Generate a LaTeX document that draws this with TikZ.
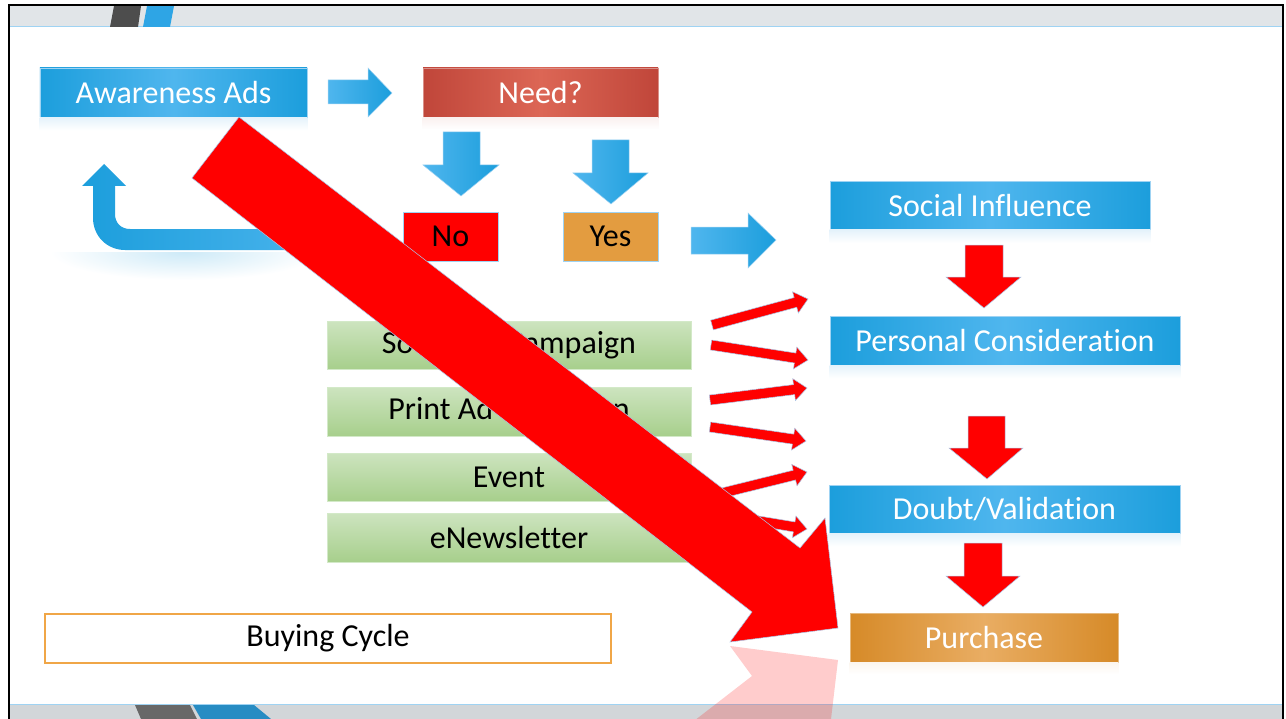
\documentclass[tikz,border=0pt]{standalone}
\usepackage{fontspec}
\setmainfont{Carlito}[Ligatures=CommonOff]
\usetikzlibrary{calc}

\definecolor{boxblue}{HTML}{1C9EDC}
\definecolor{boxbluelt}{HTML}{4FB6EE}
\definecolor{bluerim}{HTML}{9FD3F3}
\definecolor{needred}{HTML}{C0463A}
\definecolor{needredlt}{HTML}{DC6655}
\definecolor{buyorange}{HTML}{D68A28}
\definecolor{buyorangelt}{HTML}{E9AD63}
\definecolor{yesorange}{HTML}{E39C40}
\definecolor{greentop}{HTML}{CDE4BF}
\definecolor{greenbot}{HTML}{A7CF8C}
\definecolor{greenrim}{HTML}{D3E9C8}
\definecolor{barsgray}{HTML}{E1E5E8}
\definecolor{barbgray}{HTML}{D2D6D9}
\definecolor{tabdark}{HTML}{4D4D4D}
\definecolor{tabblue}{HTML}{2EA5E5}
\definecolor{rimred}{HTML}{A9C8EA}
\definecolor{cycleline}{HTML}{F0A647}
\definecolor{glowblue}{HTML}{E4F2FB}

\newcommand\thinarrow[2]{%
  \coordinate (hb) at ($(#2)!13bp!(#1)$);
  \draw[redblock]
    ($(#1)!5bp!90:(#2)$) -- ($(hb)!5bp!-90:(#1)$) -- ($(hb)!11bp!-90:(#1)$) --
    (#2) -- ($(hb)!11bp!90:(#1)$) -- ($(hb)!5bp!90:(#1)$) --
    ($(#1)!5bp!-90:(#2)$) -- cycle;}

\begin{document}
\begin{tikzpicture}[x=1bp,y=-1bp,
  txt/.style={font=\fontsize{32bp}{38bp}\selectfont},
  box/.style={rectangle, inner sep=0pt, txt, line width=0.6bp},
  bluebox/.style={box, left color=boxblue, right color=boxblue, middle color=boxbluelt, draw=bluerim, text=white},
  needbox/.style={box, left color=needred, right color=needred, middle color=needredlt, draw=needred!60!white, text=white},
  buybox/.style={box, left color=buyorange, right color=buyorange, middle color=buyorangelt, draw=buyorange!60!white, text=white},
  greenbox/.style={box, top color=greentop, bottom color=greenbot, draw=greenrim, text=black, minimum width=364bp},
  blueblock/.style={left color=boxbluelt, right color=boxblue, draw=bluerim, line width=0.5bp},
  redblock/.style={fill=red, draw=rimred, line width=0.5bp},
  glow/.style={top color=#1, bottom color=white, draw=none}
]
\useasboundingbox (0,0) rectangle (1286,719);
\fill[white] (0,0) rectangle (1286,719);

% slide frame: top and bottom bars with their tabs
\fill[barsgray] (8,5) rectangle (1284,27);
\draw[bluerim, line width=1bp] (8,27) -- (1284,27);
\fill[tabdark] (114,6) -- (141,6) -- (138,27) -- (110,27) -- cycle;
\fill[tabblue] (147,6) -- (174,6) -- (170,27) -- (143,27) -- cycle;
\fill[barbgray] (8,704) rectangle (1284,719);
\draw[bluerim, line width=1bp] (8,704) -- (1284,704);
\fill[tabdark!85!white] (135,705) -- (190,705) -- (197,719) -- (141,719) -- cycle;
\fill[tabblue!85!black] (193,705) -- (254,705) -- (271,719) -- (201,719) -- cycle;
\draw[black, line width=2bp] (9,719) -- (9,5) -- (1283,5) -- (1283,719);

% boxes
\node[bluebox, minimum width=267bp, minimum height=49bp] (aware) at (173.5,92.5) {Awareness Ads};
\node[needbox, minimum width=235bp, minimum height=49bp] (need) at (540.5,92.5) {Need?};
\node[box, fill=red, draw=bluerim, minimum width=95bp, minimum height=49bp] (no) at (450.5,236.5) {No};
\node[box, fill=yesorange, draw=bluerim, minimum width=95bp, minimum height=49bp] (yes) at (610.5,236.5) {Yes};
\node[bluebox, minimum width=320bp, minimum height=48bp] (social) at (990,205.5) {Social Influence};
\node[bluebox, minimum width=350bp, minimum height=49bp] (personal) at (1005,340.5) {Personal Consideration};
\node[bluebox, minimum width=351bp, minimum height=48bp] (doubt) at (1004.5,509) {Doubt/Validation};
\node[buybox, minimum width=268bp, minimum height=49bp] (purchase) at (984,637.5) {Purchase};
\node[greenbox, minimum height=48bp] (g1) at (509,345) {Social Ad Campaign};
\node[greenbox, minimum height=49bp] (g2) at (509,411.5) {Print Ad Campaign};
\node[greenbox, minimum height=48bp] (g3) at (509,477) {Event};
\node[greenbox, minimum height=49bp] (g4) at (509,537.5) {eNewsletter};
\node[box, fill=white, draw=cycleline, line width=1.5bp, minimum width=566bp, minimum height=49bp] (cycle) at (328,638.5) {Buying Cycle};

% soft reflections under the boxes
\foreach \b in {aware,social,personal,doubt}
  \shade[glow=glowblue] (\b.south west) rectangle ($(\b.south east)+(0,13)$);
\shade[glow=needred!8] (need.south west) rectangle ($(need.south east)+(0,12)$);
\shade[glow=buyorange!8] (purchase.south west) rectangle ($(purchase.south east)+(0,12)$);
\begin{scope}
  \clip (40,252) rectangle (330,290);
  \shade[inner color=boxblue!22, outer color=white] (185,252) ellipse (135 and 28);
\end{scope}

% blue block arrows
\draw[blueblock] (328,80) -- (368,80) -- (368,68) -- (392,93) -- (368,117) -- (368,104) -- (328,104) -- cycle;
\draw[blueblock] (691,227) -- (748,227) -- (748,213) -- (776,240) -- (748,268) -- (748,254) -- (691,254) -- cycle;
\draw[blueblock] (443,132) -- (480,132) -- (480,165) -- (499,165) -- (461,196) -- (423,165) -- (443,165) -- cycle;
\draw[blueblock] (592,140) -- (629,140) -- (629,173) -- (648,173) -- (611,204) -- (573,173) -- (592,173) -- cycle;

% loop back to the awareness ads
\shade[left color=boxblue, right color=boxbluelt]
  (82,186) -- (104,164) -- (126,186) -- (115,186) -- (115,214)
  .. controls (115,223) and (121,229) .. (130,229) -- (350,229) -- (350,250) -- (125,250)
  .. controls (107,250) and (93,236) .. (93,218) -- (93,186) -- cycle;

% red block arrows down the right column
\draw[redblock] (965,245) -- (1003,245) -- (1003,277) -- (1021,277) -- (984,308) -- (946,277) -- (965,277) -- cycle;
\draw[redblock] (968,416) -- (1005,416) -- (1005,448) -- (1023,448) -- (987,479) -- (949,448) -- (968,448) -- cycle;
\draw[redblock] (964,543) -- (1002,543) -- (1002,576) -- (1020,576) -- (983,607) -- (946,576) -- (964,576) -- cycle;

% thin red arrows from the campaigns
\coordinate (t1) at (712,325); \coordinate (p1) at (808,299);
\coordinate (t2) at (711,345); \coordinate (p2) at (808,360);
\coordinate (t3) at (710,400); \coordinate (p3) at (807,388);
\coordinate (t4) at (710,427); \coordinate (p4) at (806,441);
\coordinate (t5) at (710,496); \coordinate (p5) at (807,472);
\coordinate (t6) at (710,513); \coordinate (p6) at (807,529);
\foreach \i in {1,...,6} { \thinarrow{t\i}{p\i} }

% large diagonal arrow and its reflection
\draw[redblock] (239,117) -- (800,548) -- (825,518) -- (838,628) -- (730,642) -- (752,612) -- (192,178) -- cycle;
\begin{scope}
  \clip (0,645) rectangle (1286,719);
  \fill[red, opacity=0.2] (239,1171) -- (800,740) -- (825,770) -- (838,660) -- (730,646) -- (752,676) -- (192,1110) -- cycle;
\end{scope}
\end{tikzpicture}
\end{document}
